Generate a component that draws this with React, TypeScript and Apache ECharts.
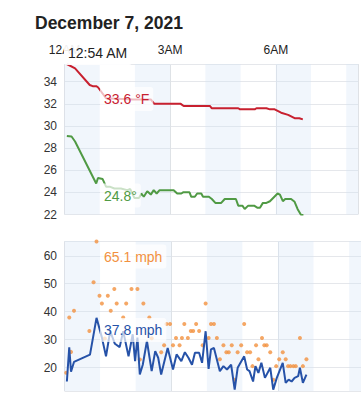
import React, { useEffect, useRef } from 'react';
import * as echarts from 'echarts';

const FONT = '"Liberation Sans", Arial, Helvetica, sans-serif';

// x values are minutes after midnight, December 7, 2021
const hourLabels: Record<number, string> = { 0: '12AM', 180: '3AM', 360: '6AM', 540: '9AM' };
const hourBands: [number, number][] = [[0, 60], [120, 180], [240, 300], [360, 420], [480, 540]];

const temperatureF: [number, number][] = [
  [4, 35.6], [18, 35.2], [43, 33.7], [48, 33.6], [54, 33.6], [57, 33.5], [71, 32.5], [116, 32.4],
  [147, 32.4], [153, 32.0], [198, 32.0], [203, 31.8], [248, 31.8], [251, 31.6], [296, 31.6],
  [299, 31.5], [324, 31.5], [327, 31.6], [344, 31.6], [350, 31.5], [358, 31.5], [369, 31.2],
  [381, 31.0], [392, 30.7], [400, 30.7], [406, 30.6],
];

const dewPointF: [number, number][] = [
  [4, 29.1], [12, 29.05], [18, 28.6], [54, 24.8], [57, 25.3], [65, 25.2], [71, 24.5], [78, 24.5],
  [85, 24.35], [96, 24.35], [107, 24.2], [112, 24.3], [119, 23.5], [127, 23.5], [131, 23.9],
  [135, 23.6], [141, 24.1], [147, 23.8], [152, 24.2], [157, 23.9], [162, 24.2], [186, 24.2],
  [192, 23.9], [199, 23.9], [202, 24.0], [213, 24.0], [216, 23.6], [222, 23.6], [226, 23.9],
  [233, 23.9], [236, 23.6], [246, 23.6], [251, 23.4], [257, 23.05], [267, 23.05], [273, 23.4],
  [292, 23.4], [296, 22.8], [303, 22.8], [307, 22.5], [313, 22.8], [323, 22.8], [329, 22.6],
  [333, 22.6], [338, 23.05], [344, 23.05], [350, 23.2], [363, 23.9], [367, 23.8], [372, 23.2],
  [376, 23.4], [386, 23.4], [392, 23.15], [397, 22.5], [403, 21.95], [407, 21.95],
];

const windMph: [number, number][] = [
  [4, 15.0], [8, 27.2], [11, 18.5], [16, 22.0], [43, 24.6], [54, 37.8], [63, 30.8], [70, 24.0],
  [77, 33.0], [85, 28.5], [93, 27.3], [99, 33.0], [108, 24.0], [115, 31.9], [119, 22.3],
  [123, 30.7], [127, 17.5], [132, 21.0], [139, 29.5], [147, 18.7], [153, 25.9], [158, 23.5],
  [163, 17.5], [167, 21.0], [174, 27.0], [183, 19.3], [189, 24.7], [197, 22.3], [203, 25.5],
  [209, 23.5], [215, 21.0], [220, 25.3], [227, 25.3], [232, 21.7], [238, 33.0], [243, 19.5],
  [247, 26.5], [252, 27.0], [262, 18.7], [268, 20.5], [274, 19.3], [281, 21.0], [287, 12.1],
  [292, 19.9], [303, 24.0], [308, 19.3], [312, 18.7], [318, 15.0], [322, 20.5], [327, 18.1],
  [332, 21.7], [338, 16.3], [347, 19.9], [352, 12.1], [358, 16.3], [368, 21.7], [373, 14.5],
  [378, 15.7], [383, 15.0], [388, 16.3], [394, 16.9], [397, 19.9], [402, 14.5], [408, 17.5],
];

const gustMph: [number, number][] = [
  [3, 18.1], [8, 37.9], [11, 25.6], [16, 40.3], [42, 33.1], [49, 50.5], [54, 65.1], [59, 45.7],
  [63, 42.9], [68, 30.4], [73, 45.7], [78, 40.3], [84, 48.1], [88, 42.9], [99, 37.9], [104, 42.9],
  [113, 48.1], [123, 48.1], [127, 22.9], [133, 42.9], [143, 37.9], [147, 30.5], [163, 25.5],
  [168, 28.0], [172, 35.6], [178, 35.6], [183, 28.0], [188, 30.6], [194, 28.0], [198, 30.6],
  [202, 35.6], [208, 30.6], [213, 33.1], [217, 33.1], [222, 35.6], [227, 33.1], [233, 28.0],
  [238, 42.9], [243, 30.6], [247, 35.6], [252, 35.6], [257, 30.6], [262, 23.0], [268, 28.0],
  [273, 25.5], [277, 25.5], [282, 28.0], [287, 15.6], [292, 25.5], [298, 28.0], [303, 35.6],
  [308, 25.5], [313, 25.5], [317, 20.5], [323, 28.0], [327, 23.0], [333, 30.6], [337, 28.0],
  [341, 28.0], [347, 25.5], [352, 15.6], [357, 20.5], [362, 23.0], [368, 25.5], [373, 23.0],
  [377, 20.5], [381, 20.5], [386, 20.5], [390, 20.5], [397, 30.6], [402, 20.5], [408, 23.0],
];

const RED = '#c8202f';
const GREEN = '#509a44';
const BLUE = '#2652a8';
const ORANGE = '#f2913f';
const GRID = '#e5e7eb';

const bandArea = {
  silent: true,
  itemStyle: { color: 'rgba(214,229,245,0.33)' },
  data: hourBands.map(([a, b]) => [{ xAxis: a }, { xAxis: b }]),
};

function xAxisFor(gridIndex: number, showLabels: boolean) {
  return {
    gridIndex,
    type: 'value',
    position: 'top',
    min: 0,
    max: 500,
    interval: 180,
    axisLine: { show: true, lineStyle: { color: GRID } },
    axisTick: { show: false },
    axisLabel: {
      show: showLabels,
      color: '#222',
      fontSize: 12,
      fontFamily: FONT,
      margin: 8,
      formatter: (v: number) => hourLabels[v] ?? '',
    },
    splitLine: { show: true, lineStyle: { color: '#dfe2e6' } },
  };
}

function label(text: string, x: number, y: number, color: string, alpha = 0.7) {
  return {
    type: 'text',
    x,
    y,
    z: 100,
    silent: true,
    style: {
      text,
      fill: color,
      font: `14px ${FONT}`,
      align: 'left',
      verticalAlign: 'middle',
      textAlign: 'left',
      textVerticalAlign: 'middle',
      backgroundColor: `rgba(255,255,255,${alpha})`,
      padding: [5, 4, 5, 4],
      borderRadius: 3,
    },
  };
}

export default function App() {
  const ref = useRef<HTMLDivElement>(null);
  useEffect(() => {
    const chart = echarts.init(ref.current!, null, { renderer: 'svg' });
    chart.setOption({
      animation: false,
      textStyle: { fontFamily: FONT },
      grid: [
        { left: 64.5, right: 0, top: 64, height: 150.5 },
        { left: 64.5, right: 0, top: 241, height: 150 },
      ],
      xAxis: [xAxisFor(0, true), xAxisFor(1, false)],
      yAxis: [
        {
          gridIndex: 0,
          type: 'value',
          min: 22,
          max: 35.6,
          interval: 2,
          axisLine: { show: false },
          axisTick: { show: false },
          axisLabel: {
            color: '#333',
            fontSize: 12,
            fontFamily: FONT,
            margin: 7.5,
            formatter: (v: number) => (v % 2 === 0 ? String(v) : ''),
          },
          splitLine: { lineStyle: { color: GRID } },
        },
        {
          gridIndex: 1,
          type: 'value',
          min: 11.6,
          max: 65.3,
          splitNumber: 5,
          axisLine: { show: false },
          axisTick: { show: false },
          axisLabel: {
            color: '#333',
            fontSize: 12,
            fontFamily: FONT,
            margin: 7.5,
            formatter: (v: number) => (v % 10 === 0 ? String(v) : ''),
          },
          splitLine: { lineStyle: { color: GRID } },
        },
      ],
      series: [
        {
          type: 'line',
          xAxisIndex: 0,
          yAxisIndex: 0,
          data: temperatureF,
          symbol: 'none',
          lineStyle: { color: RED, width: 2 },
          markArea: bandArea,
        },
        {
          type: 'line',
          xAxisIndex: 0,
          yAxisIndex: 0,
          data: dewPointF,
          symbol: 'none',
          lineStyle: { color: GREEN, width: 2 },
        },
        {
          type: 'line',
          xAxisIndex: 1,
          yAxisIndex: 1,
          data: windMph,
          symbol: 'none',
          lineStyle: { color: BLUE, width: 2 },
          markArea: bandArea,
        },
        {
          type: 'scatter',
          xAxisIndex: 1,
          yAxisIndex: 1,
          data: gustMph,
          symbolSize: 4,
          itemStyle: { color: ORANGE },
        },
      ],
      graphic: [
        {
          type: 'text',
          x: 35,
          y: 22.5,
          z: 100,
          style: {
            text: 'December 7, 2021',
            fill: '#222',
            font: `bold 17.5px ${FONT}`,
            verticalAlign: 'middle',
            textVerticalAlign: 'middle',
          },
        },
        label('12:54 AM', 64, 53, '#222', 0.92),
        label('33.6 °F', 100, 99, RED),
        label('24.8°', 100, 195.5, GREEN),
        label('65.1 mph', 100, 256.5, ORANGE),
        label('37.8 mph', 100, 330, BLUE),
      ],
    });
    return () => chart.dispose();
  }, []);
  return <div ref={ref} style={{ position: 'absolute', left: 0, top: 0, width: 361, height: 409 }} />;
}
